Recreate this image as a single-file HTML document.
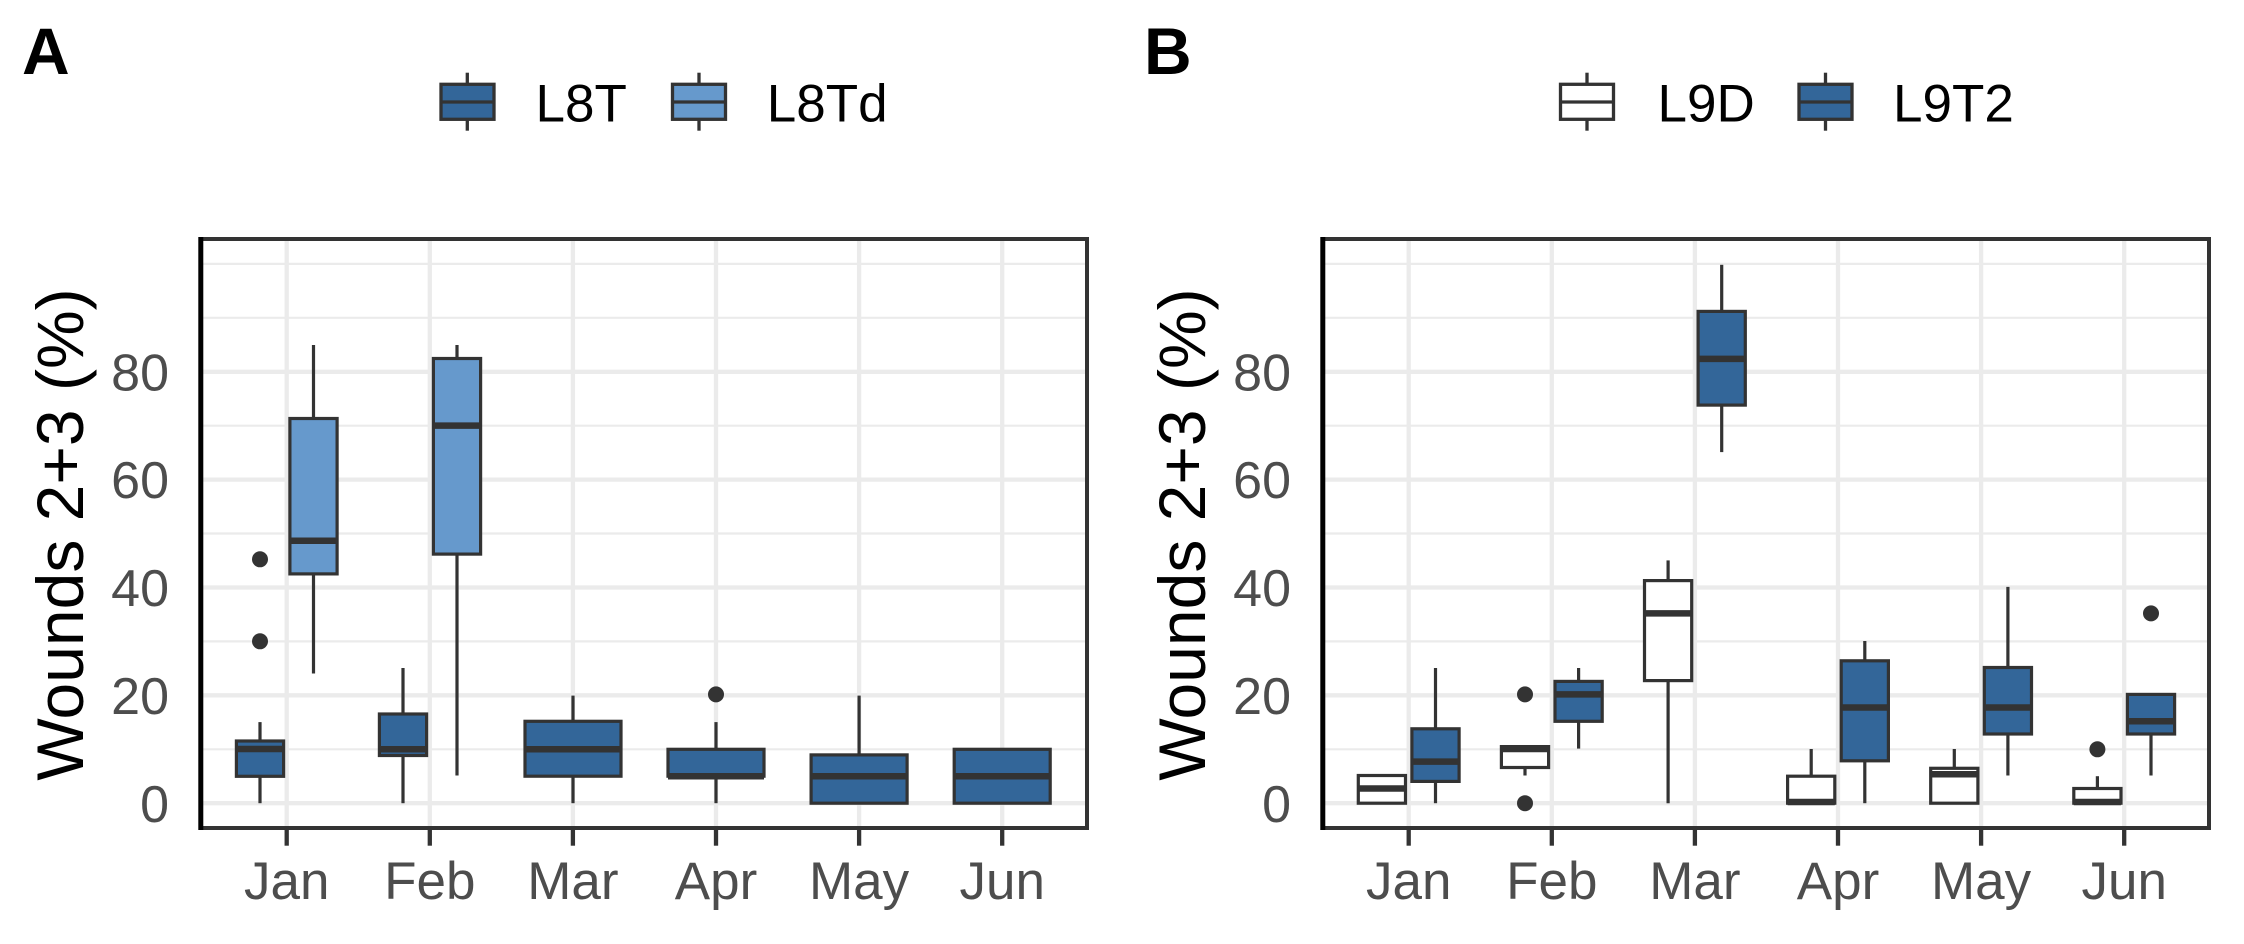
<!DOCTYPE html>
<html>
<head>
<meta charset="utf-8">
<style>
  html, body { margin: 0; padding: 0; background: #ffffff; }
  svg { display: block; }
  text { font-family: "Liberation Sans", Arial, sans-serif; }
</style>
</head>
<body>
<svg width="2244" height="944" viewBox="0 0 2244 944" xmlns="http://www.w3.org/2000/svg">
  <rect x="0" y="0" width="2244" height="944" fill="#ffffff"/>

  <defs>
    <g id="frame">
      <!-- minor horizontal grid -->
      <g stroke="#EBEBEB" stroke-width="2.2">
        <line x1="200.5" x2="1087" y1="263.9" y2="263.9"/>
        <line x1="200.5" x2="1087" y1="317.8" y2="317.8"/>
        <line x1="200.5" x2="1087" y1="425.7" y2="425.7"/>
        <line x1="200.5" x2="1087" y1="533.5" y2="533.5"/>
        <line x1="200.5" x2="1087" y1="641.4" y2="641.4"/>
        <line x1="200.5" x2="1087" y1="749.3" y2="749.3"/>
      </g>
      <!-- major horizontal grid -->
      <g stroke="#EBEBEB" stroke-width="4.3">
        <line x1="200.5" x2="1087" y1="371.8" y2="371.8"/>
        <line x1="200.5" x2="1087" y1="479.6" y2="479.6"/>
        <line x1="200.5" x2="1087" y1="587.5" y2="587.5"/>
        <line x1="200.5" x2="1087" y1="695.3" y2="695.3"/>
        <line x1="200.5" x2="1087" y1="803.2" y2="803.2"/>
      </g>
      <!-- major vertical grid -->
      <g stroke="#EBEBEB" stroke-width="4.3">
        <line x1="286.7" x2="286.7" y1="239" y2="828"/>
        <line x1="429.8" x2="429.8" y1="239" y2="828"/>
        <line x1="572.9" x2="572.9" y1="239" y2="828"/>
        <line x1="716.0" x2="716.0" y1="239" y2="828"/>
        <line x1="859.1" x2="859.1" y1="239" y2="828"/>
        <line x1="1002.2" x2="1002.2" y1="239" y2="828"/>
      </g>
    </g>

    <g id="frameTop">
      <!-- panel border -->
      <rect x="200.5" y="239" width="886.5" height="589" fill="none" stroke="#333333" stroke-width="4"/>
      <!-- black y axis line -->
      <line x1="200.8" x2="200.8" y1="237" y2="830" stroke="#000000" stroke-width="5"/>
      <!-- x ticks -->
      <g stroke="#333333" stroke-width="4.3">
        <line x1="286.7" x2="286.7" y1="829" y2="845.7"/>
        <line x1="429.8" x2="429.8" y1="829" y2="845.7"/>
        <line x1="572.9" x2="572.9" y1="829" y2="845.7"/>
        <line x1="716.0" x2="716.0" y1="829" y2="845.7"/>
        <line x1="859.1" x2="859.1" y1="829" y2="845.7"/>
        <line x1="1002.2" x2="1002.2" y1="829" y2="845.7"/>
      </g>
      <!-- x tick labels -->
      <g fill="#4D4D4D" font-size="53" text-anchor="middle">
        <text x="286.7" y="899">Jan</text>
        <text x="429.8" y="899">Feb</text>
        <text x="572.9" y="899">Mar</text>
        <text x="716.0" y="899">Apr</text>
        <text x="859.1" y="899">May</text>
        <text x="1002.2" y="899">Jun</text>
      </g>
      <!-- y tick labels -->
      <g fill="#4D4D4D" font-size="52" text-anchor="end">
        <text x="169" y="821.8">0</text>
        <text x="169" y="713.9">20</text>
        <text x="169" y="606.1">40</text>
        <text x="169" y="498.2">60</text>
        <text x="169" y="390.4">80</text>
      </g>
      <!-- y axis title -->
      <text transform="translate(83,534.5) rotate(-90)" text-anchor="middle" font-size="66" fill="#000000">Wounds 2+3 (%)</text>
    </g>
  </defs>

  <!-- ================= PANEL A ================= -->
  <use href="#frame"/>

  <g stroke="#333333" stroke-width="3.2">
    <!-- Jan L8T -->
    <line x1="260" x2="260" y1="722.1" y2="741"/>
    <line x1="260" x2="260" y1="776.3" y2="803.2"/>
    <rect x="236.4" y="741" width="47.2" height="35.3" fill="#336699"/>
    <line x1="236.4" x2="283.6" y1="749" y2="749" stroke-width="6.5"/>
    <!-- Jan L8Td -->
    <line x1="313.5" x2="313.5" y1="345" y2="418.5"/>
    <line x1="313.5" x2="313.5" y1="573.9" y2="673.5"/>
    <rect x="289.9" y="418.5" width="47.2" height="155.4" fill="#6699CC"/>
    <line x1="289.9" x2="337.1" y1="540.7" y2="540.7" stroke-width="6.5"/>
    <!-- Feb L8T -->
    <line x1="403" x2="403" y1="668" y2="714"/>
    <line x1="403" x2="403" y1="755.5" y2="803.2"/>
    <rect x="379.4" y="714" width="47.2" height="41.5" fill="#336699"/>
    <line x1="379.4" x2="426.6" y1="749.3" y2="749.3" stroke-width="6.5"/>
    <!-- Feb L8Td -->
    <line x1="457" x2="457" y1="345" y2="358.5"/>
    <line x1="457" x2="457" y1="554.1" y2="775.5"/>
    <rect x="433.4" y="358.5" width="47.2" height="195.6" fill="#6699CC"/>
    <line x1="433.4" x2="480.6" y1="425.6" y2="425.6" stroke-width="6.5"/>
    <!-- Mar L8T -->
    <line x1="573" x2="573" y1="695.6" y2="721.3"/>
    <line x1="573" x2="573" y1="776.2" y2="803.2"/>
    <rect x="525" y="721.3" width="96" height="54.9" fill="#336699"/>
    <line x1="525" x2="621" y1="749.3" y2="749.3" stroke-width="6.5"/>
    <!-- Apr L8T -->
    <line x1="716" x2="716" y1="722.1" y2="749.3"/>
    <line x1="716" x2="716" y1="776.2" y2="803.2"/>
    <rect x="668" y="749.3" width="96" height="26.9" fill="#336699"/>
    <line x1="668" x2="764" y1="776.2" y2="776.2" stroke-width="6.5"/>
    <!-- May L8T -->
    <line x1="859.1" x2="859.1" y1="695.6" y2="754.9"/>
    <rect x="811.1" y="754.9" width="96" height="48.3" fill="#336699"/>
    <line x1="811.1" x2="907.1" y1="776.2" y2="776.2" stroke-width="6.5"/>
    <!-- Jun L8T -->
    <rect x="954.2" y="749.3" width="96" height="53.9" fill="#336699"/>
    <line x1="954.2" x2="1050.2" y1="776.2" y2="776.2" stroke-width="6.5"/>
  </g>
  <g fill="#333333">
    <circle cx="260" cy="559.3" r="8"/>
    <circle cx="260" cy="641.3" r="8"/>
    <circle cx="716" cy="694.4" r="8"/>
  </g>

  <use href="#frameTop"/>

  <!-- Panel A label -->
  <text x="22" y="74" font-size="66" font-weight="bold" fill="#000000">A</text>

  <!-- Legend A -->
  <g stroke="#333333" stroke-width="3.3">
    <line x1="467.3" x2="467.3" y1="72.7" y2="84.3"/>
    <line x1="467.3" x2="467.3" y1="119.3" y2="130.7"/>
    <rect x="441" y="84.3" width="53" height="35" fill="#336699"/>
    <line x1="441" x2="494" y1="102" y2="102"/>
    <line x1="699" x2="699" y1="72.7" y2="84.3"/>
    <line x1="699" x2="699" y1="119.3" y2="130.7"/>
    <rect x="672.5" y="84.3" width="53" height="35" fill="#6699CC"/>
    <line x1="672.5" x2="725.5" y1="102" y2="102"/>
  </g>
  <g font-size="53" fill="#000000">
    <text x="535.5" y="121.7">L8T</text>
    <text x="766.8" y="121.7">L8Td</text>
  </g>

  <!-- ================= PANEL B ================= -->
  <use href="#frame" transform="translate(1122,0)"/>

  <g stroke="#333333" stroke-width="3.2">
    <!-- Jan L9D -->
    <rect x="1358.3" y="775.5" width="47.2" height="27.7" fill="#ffffff"/>
    <line x1="1358.3" x2="1405.5" y1="788.5" y2="788.5" stroke-width="6.5"/>
    <!-- Jan L9T2 -->
    <line x1="1435.5" x2="1435.5" y1="668" y2="728.8"/>
    <line x1="1435.5" x2="1435.5" y1="781.4" y2="803.2"/>
    <rect x="1411.9" y="728.8" width="47.2" height="52.6" fill="#336699"/>
    <line x1="1411.9" x2="1459.1" y1="761.6" y2="761.6" stroke-width="6.5"/>
    <!-- Feb L9D -->
    <line x1="1525" x2="1525" y1="767.5" y2="775.5"/>
    <rect x="1501.4" y="746.6" width="47.2" height="20.9" fill="#ffffff"/>
    <line x1="1501.4" x2="1548.6" y1="749" y2="749" stroke-width="6.5"/>
    <!-- Feb L9T2 -->
    <line x1="1578.6" x2="1578.6" y1="668" y2="681.4"/>
    <line x1="1578.6" x2="1578.6" y1="721.3" y2="748.6"/>
    <rect x="1555" y="681.4" width="47.2" height="39.9" fill="#336699"/>
    <line x1="1555" x2="1602.2" y1="694.4" y2="694.4" stroke-width="6.5"/>
    <!-- Mar L9D -->
    <line x1="1668.1" x2="1668.1" y1="560.4" y2="580.6"/>
    <line x1="1668.1" x2="1668.1" y1="680.6" y2="803.2"/>
    <rect x="1644.5" y="580.6" width="47.2" height="100" fill="#ffffff"/>
    <line x1="1644.5" x2="1691.7" y1="613.4" y2="613.4" stroke-width="6.5"/>
    <!-- Mar L9T2 -->
    <line x1="1721.7" x2="1721.7" y1="264.8" y2="311.4"/>
    <line x1="1721.7" x2="1721.7" y1="405.1" y2="452.1"/>
    <rect x="1698.1" y="311.4" width="47.2" height="93.7" fill="#336699"/>
    <line x1="1698.1" x2="1745.3" y1="358.9" y2="358.9" stroke-width="6.5"/>
    <!-- Apr L9D -->
    <line x1="1811.2" x2="1811.2" y1="749" y2="776.2"/>
    <rect x="1787.6" y="776.2" width="47.2" height="27" fill="#ffffff"/>
    <line x1="1787.6" x2="1834.8" y1="802" y2="802" stroke-width="6.5"/>
    <!-- Apr L9T2 -->
    <line x1="1864.8" x2="1864.8" y1="641" y2="660.8"/>
    <line x1="1864.8" x2="1864.8" y1="760.8" y2="803.2"/>
    <rect x="1841.2" y="660.8" width="47.2" height="100" fill="#336699"/>
    <line x1="1841.2" x2="1888.4" y1="707.5" y2="707.5" stroke-width="6.5"/>
    <!-- May L9D -->
    <line x1="1954.3" x2="1954.3" y1="749" y2="768.3"/>
    <rect x="1930.7" y="768.3" width="47.2" height="34.9" fill="#ffffff"/>
    <line x1="1930.7" x2="1977.9" y1="774.3" y2="774.3" stroke-width="6.5"/>
    <!-- May L9T2 -->
    <line x1="2007.9" x2="2007.9" y1="586.9" y2="667.5"/>
    <line x1="2007.9" x2="2007.9" y1="734" y2="775.5"/>
    <rect x="1984.3" y="667.5" width="47.2" height="66.5" fill="#336699"/>
    <line x1="1984.3" x2="2031.5" y1="707.5" y2="707.5" stroke-width="6.5"/>
    <!-- Jun L9D -->
    <line x1="2097.4" x2="2097.4" y1="776.2" y2="788.5"/>
    <rect x="2073.8" y="788.5" width="47.2" height="14.7" fill="#ffffff"/>
    <line x1="2073.8" x2="2121" y1="802" y2="802" stroke-width="6.5"/>
    <!-- Jun L9T2 -->
    <line x1="2151" x2="2151" y1="734" y2="775.5"/>
    <rect x="2127.4" y="694.4" width="47.2" height="39.6" fill="#336699"/>
    <line x1="2127.4" x2="2174.6" y1="721.3" y2="721.3" stroke-width="6.5"/>
  </g>
  <g fill="#333333">
    <circle cx="1525" cy="694.4" r="8"/>
    <circle cx="1525" cy="803.2" r="8"/>
    <circle cx="2097.4" cy="749.3" r="8"/>
    <circle cx="2151" cy="613.4" r="8"/>
  </g>

  <use href="#frameTop" transform="translate(1122,0)"/>

  <!-- Panel B label -->
  <text x="1144" y="74" font-size="66" font-weight="bold" fill="#000000">B</text>

  <!-- Legend B -->
  <g stroke="#333333" stroke-width="3.3">
    <line x1="1587" x2="1587" y1="72.7" y2="84.3"/>
    <line x1="1587" x2="1587" y1="119.3" y2="130.7"/>
    <rect x="1560.5" y="84.3" width="53" height="35" fill="#ffffff"/>
    <line x1="1560.5" x2="1613.5" y1="102" y2="102"/>
    <line x1="1825.5" x2="1825.5" y1="72.7" y2="84.3"/>
    <line x1="1825.5" x2="1825.5" y1="119.3" y2="130.7"/>
    <rect x="1799" y="84.3" width="53" height="35" fill="#336699"/>
    <line x1="1799" x2="1852" y1="102" y2="102"/>
  </g>
  <g font-size="53" fill="#000000">
    <text x="1657.5" y="121.7">L9D</text>
    <text x="1893" y="121.7">L9T2</text>
  </g>
</svg>
</body>
</html>
